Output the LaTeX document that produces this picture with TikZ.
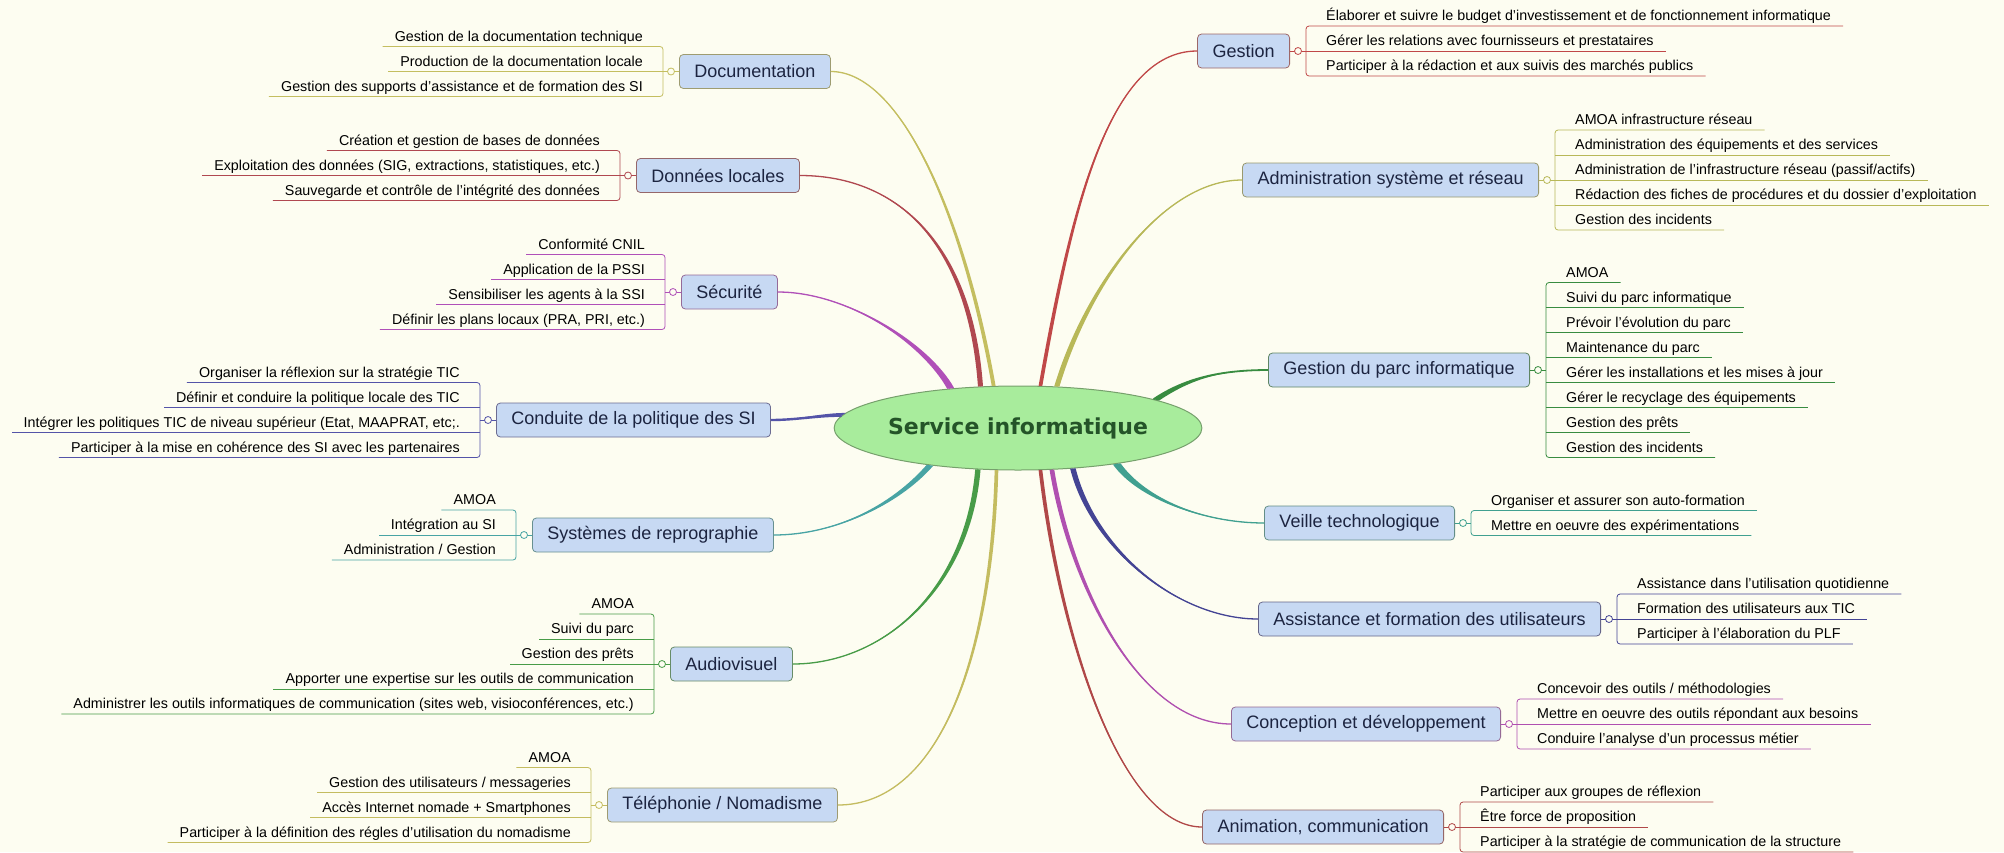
\documentclass[tikz,border=0pt]{standalone}
\usepackage{fontspec}
\setmainfont{Liberation Sans}
\newfontfamily\hubfont{DejaVu Sans}
\usetikzlibrary{shapes.geometric}

\definecolor{bg}{RGB}{253,253,241}
\definecolor{boxblue}{RGB}{199,217,243}
\definecolor{hubgreen}{RGB}{168,236,156}
\definecolor{hubline}{RGB}{118,160,108}
\definecolor{hubtext}{RGB}{36,84,40}
\definecolor{topictext}{RGB}{28,36,64}
\definecolor{cDoc}{RGB}{196,190,96}
\definecolor{cDon}{RGB}{176,72,80}
\definecolor{cSec}{RGB}{176,80,184}
\definecolor{cCon}{RGB}{84,84,168}
\definecolor{cSys}{RGB}{72,164,164}
\definecolor{cAud}{RGB}{72,156,72}
\definecolor{cTel}{RGB}{196,188,96}
\definecolor{cGst}{RGB}{192,72,72}
\definecolor{cAdm}{RGB}{184,184,88}
\definecolor{cPrc}{RGB}{56,140,64}
\definecolor{cVei}{RGB}{64,160,144}
\definecolor{cAss}{RGB}{68,68,148}
\definecolor{cCnc}{RGB}{176,80,176}
\definecolor{cAni}{RGB}{176,72,72}

\begin{document}
\begin{tikzpicture}[x=1pt, y=-1pt,
    hub/.style={ellipse, draw=hubline, line width=1pt, fill=hubgreen, minimum width=356pt, minimum height=84pt, inner sep=0pt, text=hubtext, font=\hubfont\bfseries\fontsize{22}{26}\selectfont},
    topic/.style={draw=#1!45!gray, line width=0.8pt, rounded corners=4pt, fill=boxblue, minimum height=34pt, inner xsep=15pt, inner ysep=0pt, text=topictext, font=\fontsize{18}{20}\selectfont},
    leafL/.style={anchor=south east, inner xsep=12pt, inner ysep=2pt, text height=10pt, text depth=3pt, font=\fontsize{14.3}{16}\selectfont},
    leafR/.style={leafL, anchor=south west},
    under/.style={draw=#1, line width=0.8pt}]

    \fill[bg] (0,0) rectangle (2004,852);
    \useasboundingbox (0,0) rectangle (2004,852);

    \node[hub] (srv) at (1018,428) {Service informatique};

    \node[topic=cDoc, anchor=west] (doc) at (679,71.5) {Documentation};
    \node[topic=cDon, anchor=west] (don) at (636,175.5) {Données locales};
    \node[topic=cSec, anchor=west] (sec) at (681,292) {Sécurité};
    \node[topic=cCon, anchor=west] (con) at (496,420) {Conduite de la politique des SI};
    \node[topic=cSys, anchor=west] (sys) at (532,535) {Systèmes de reprographie};
    \node[topic=cAud, anchor=west] (aud) at (670,664) {Audiovisuel};
    \node[topic=cTel, anchor=west] (tel) at (607,805) {Téléphonie / Nomadisme};

    \node[topic=cGst, anchor=east] (gst) at (1290,51) {Gestion};
    \node[topic=cAdm, anchor=east] (adm) at (1539,180) {Administration système et réseau};
    \node[topic=cPrc, anchor=east] (prc) at (1530,370) {Gestion du parc informatique};
    \node[topic=cVei, anchor=east] (vei) at (1455,523) {Veille technologique};
    \node[topic=cAss, anchor=east] (ass) at (1601,619) {Assistance et formation des utilisateurs};
    \node[topic=cCnc, anchor=east] (cnc) at (1501,724) {Conception et développement};
    \node[topic=cAni, anchor=east] (ani) at (1444,827) {Animation, communication};

    % branches
    \fill[cDoc] (srv.118) .. controls +(-30,-170) and +(70,0) .. (doc.east) .. controls +(70,0) and +(-30,-170) .. (srv.122) -- cycle;
    \draw[cDoc, line width=1.3pt] (srv.120) .. controls +(-30,-170) and +(70,0) .. (doc.east);
    \fill[cDon] (srv.130) .. controls +(-10,-140) and +(100,0) .. (don.east) .. controls +(100,0) and +(-10,-140) .. (srv.134) -- cycle;
    \draw[cDon, line width=1.3pt] (srv.132) .. controls +(-10,-140) and +(100,0) .. (don.east);
    \fill[cSec] (srv.148.8) .. controls +(-25,-45) and +(70,0) .. (sec.east) .. controls +(70,0) and +(-25,-45) .. (srv.151.2) -- cycle;
    \draw[cSec, line width=1.3pt] (srv.150) .. controls +(-25,-45) and +(70,0) .. (sec.east);
    \fill[cCon] (srv.175.4) .. controls +(-25,0) and +(25,0) .. (con.east) .. controls +(25,0) and +(-25,0) .. (srv.176.6) -- cycle;
    \draw[cCon, line width=2.4pt] (srv.176) .. controls +(-25,0) and +(25,0) .. (con.east);
    \fill[cSys] (srv.202.7) .. controls +(-35,40) and +(60,0) .. (sys.east) .. controls +(60,0) and +(-35,40) .. (srv.204.3) -- cycle;
    \draw[cSys, line width=1.3pt] (srv.203.5) .. controls +(-35,40) and +(60,0) .. (sys.east);
    \fill[cAud] (srv.224.5) .. controls +(-10,120) and +(90,0) .. (aud.east) .. controls +(90,0) and +(-10,120) .. (srv.228.5) -- cycle;
    \draw[cAud, line width=1.3pt] (srv.226.5) .. controls +(-10,120) and +(90,0) .. (aud.east);
    \fill[cTel] (srv.241.5) .. controls +(-5,190) and +(100,0) .. (tel.east) .. controls +(100,0) and +(-5,190) .. (srv.245.5) -- cycle;
    \draw[cTel, line width=1.3pt] (srv.243.5) .. controls +(-5,190) and +(100,0) .. (tel.east);

    \fill[cGst] (srv.60) .. controls +(30,-170) and +(-90,0) .. (gst.west) .. controls +(-90,0) and +(30,-170) .. (srv.64) -- cycle;
    \draw[cGst, line width=1.3pt] (srv.62) .. controls +(30,-170) and +(-90,0) .. (gst.west);
    \fill[cAdm] (srv.45) .. controls +(30,-100) and +(-80,0) .. (adm.west) .. controls +(-80,0) and +(30,-100) .. (srv.49) -- cycle;
    \draw[cAdm, line width=1.3pt] (srv.47) .. controls +(30,-100) and +(-80,0) .. (adm.west);
    \fill[cPrc] (srv.11.4) .. controls +(30,-20) and +(-50,0) .. (prc.west) .. controls +(-50,0) and +(30,-20) .. (srv.12.6) -- cycle;
    \draw[cPrc, line width=1.8pt] (srv.12) .. controls +(30,-20) and +(-50,0) .. (prc.west);
    \fill[cVei] (srv.339.9) .. controls +(25,35) and +(-60,0) .. (vei.west) .. controls +(-60,0) and +(25,35) .. (srv.341.1) -- cycle;
    \draw[cVei, line width=1.3pt] (srv.340.5) .. controls +(25,35) and +(-60,0) .. (vei.west);
    \fill[cAss] (srv.322) .. controls +(20,80) and +(-80,0) .. (ass.west) .. controls +(-80,0) and +(20,80) .. (srv.325) -- cycle;
    \draw[cAss, line width=1.3pt] (srv.323.5) .. controls +(20,80) and +(-80,0) .. (ass.west);
    \fill[cCnc] (srv.307.5) .. controls +(20,120) and +(-90,0) .. (cnc.west) .. controls +(-90,0) and +(20,120) .. (srv.311.5) -- cycle;
    \draw[cCnc, line width=1.3pt] (srv.309.5) .. controls +(20,120) and +(-90,0) .. (cnc.west);
    \fill[cAni] (srv.296) .. controls +(20,170) and +(-80,0) .. (ani.west) .. controls +(-80,0) and +(20,170) .. (srv.300) -- cycle;
    \draw[cAni, line width=1.3pt] (srv.298) .. controls +(20,170) and +(-80,0) .. (ani.west);

    % Documentation
    \node[leafL] (doc1) at ([shift={(-24,-25)}]doc.west) {Gestion de la documentation technique};
    \node[leafL] (doc2) at ([shift={(-24,0)}]doc.west) {Production de la documentation locale};
    \node[leafL] (doc3) at ([shift={(-24,25)}]doc.west) {Gestion des supports d'assistance et de formation des SI};
    \draw[under=cDoc, rounded corners=3pt] (doc1.south west) -- (doc1.south east) -| ([xshift=8pt]doc3.south east) -- (doc3.south west);
    \draw[under=cDoc] ([xshift=8pt]doc2.south east) -- (doc2.south west);
    \draw[under=cDoc] (doc.west) -- ++(-16,0);
    \draw[under=cDoc, fill=bg] ([xshift=-8pt]doc.west) circle (3.5pt);

    % Donnees locales
    \node[leafL] (don1) at ([shift={(-24,-25)}]don.west) {Création et gestion de bases de données};
    \node[leafL] (don2) at ([shift={(-24,0)}]don.west) {Exploitation des données (SIG, extractions, statistiques, etc.)};
    \node[leafL] (don3) at ([shift={(-24,25)}]don.west) {Sauvegarde et contrôle de l'intégrité des données};
    \draw[under=cDon, rounded corners=3pt] (don1.south west) -- (don1.south east) -| ([xshift=8pt]don3.south east) -- (don3.south west);
    \draw[under=cDon] ([xshift=8pt]don2.south east) -- (don2.south west);
    \draw[under=cDon] (don.west) -- ++(-16,0);
    \draw[under=cDon, fill=bg] ([xshift=-8pt]don.west) circle (3.5pt);

    % Securite
    \node[leafL] (sec1) at ([shift={(-24,-37.5)}]sec.west) {Conformité CNIL};
    \node[leafL] (sec2) at ([shift={(-24,-12.5)}]sec.west) {Application de la PSSI};
    \node[leafL] (sec3) at ([shift={(-24,12.5)}]sec.west) {Sensibiliser les agents à la SSI};
    \node[leafL] (sec4) at ([shift={(-24,37.5)}]sec.west) {Définir les plans locaux (PRA, PRI, etc.)};
    \draw[under=cSec, rounded corners=3pt] (sec1.south west) -- (sec1.south east) -| ([xshift=8pt]sec4.south east) -- (sec4.south west);
    \draw[under=cSec] ([xshift=8pt]sec2.south east) -- (sec2.south west);
    \draw[under=cSec] ([xshift=8pt]sec3.south east) -- (sec3.south west);
    \draw[under=cSec] (sec.west) -- ++(-16,0);
    \draw[under=cSec, fill=bg] ([xshift=-8pt]sec.west) circle (3.5pt);

    % Conduite
    \node[leafL] (con1) at ([shift={(-24,-37.5)}]con.west) {Organiser la réflexion sur la stratégie TIC};
    \node[leafL] (con2) at ([shift={(-24,-12.5)}]con.west) {Définir et conduire la politique locale des TIC};
    \node[leafL] (con3) at ([shift={(-24,12.5)}]con.west) {Intégrer les politiques TIC de niveau supérieur (Etat, MAAPRAT, etc;.};
    \node[leafL] (con4) at ([shift={(-24,37.5)}]con.west) {Participer à la mise en cohérence des SI avec les partenaires};
    \draw[under=cCon, rounded corners=3pt] (con1.south west) -- (con1.south east) -| ([xshift=8pt]con4.south east) -- (con4.south west);
    \draw[under=cCon] ([xshift=8pt]con2.south east) -- (con2.south west);
    \draw[under=cCon] ([xshift=8pt]con3.south east) -- (con3.south west);
    \draw[under=cCon] (con.west) -- ++(-16,0);
    \draw[under=cCon, fill=bg] ([xshift=-8pt]con.west) circle (3.5pt);

    % Reprographie
    \node[leafL] (sys1) at ([shift={(-24,-25)}]sys.west) {AMOA};
    \node[leafL] (sys2) at ([shift={(-24,0)}]sys.west) {Intégration au SI};
    \node[leafL] (sys3) at ([shift={(-24,25)}]sys.west) {Administration / Gestion};
    \draw[under=cSys, rounded corners=3pt] (sys1.south west) -- (sys1.south east) -| ([xshift=8pt]sys3.south east) -- (sys3.south west);
    \draw[under=cSys] ([xshift=8pt]sys2.south east) -- (sys2.south west);
    \draw[under=cSys] (sys.west) -- ++(-16,0);
    \draw[under=cSys, fill=bg] ([xshift=-8pt]sys.west) circle (3.5pt);

    % Audiovisuel
    \node[leafL] (aud1) at ([shift={(-24,-50)}]aud.west) {AMOA};
    \node[leafL] (aud2) at ([shift={(-24,-25)}]aud.west) {Suivi du parc};
    \node[leafL] (aud3) at ([shift={(-24,0)}]aud.west) {Gestion des prêts};
    \node[leafL] (aud4) at ([shift={(-24,25)}]aud.west) {Apporter une expertise sur les outils de communication};
    \node[leafL] (aud5) at ([shift={(-24,50)}]aud.west) {Administrer les outils informatiques de communication (sites web, visioconférences, etc.)};
    \draw[under=cAud, rounded corners=3pt] (aud1.south west) -- (aud1.south east) -| ([xshift=8pt]aud5.south east) -- (aud5.south west);
    \draw[under=cAud] ([xshift=8pt]aud2.south east) -- (aud2.south west);
    \draw[under=cAud] ([xshift=8pt]aud3.south east) -- (aud3.south west);
    \draw[under=cAud] ([xshift=8pt]aud4.south east) -- (aud4.south west);
    \draw[under=cAud] (aud.west) -- ++(-16,0);
    \draw[under=cAud, fill=bg] ([xshift=-8pt]aud.west) circle (3.5pt);

    % Telephonie
    \node[leafL] (tel1) at ([shift={(-24,-37.5)}]tel.west) {AMOA};
    \node[leafL] (tel2) at ([shift={(-24,-12.5)}]tel.west) {Gestion des utilisateurs / messageries};
    \node[leafL] (tel3) at ([shift={(-24,12.5)}]tel.west) {Accès Internet nomade + Smartphones};
    \node[leafL] (tel4) at ([shift={(-24,37.5)}]tel.west) {Participer à la définition des régles d'utilisation du nomadisme};
    \draw[under=cTel, rounded corners=3pt] (tel1.south west) -- (tel1.south east) -| ([xshift=8pt]tel4.south east) -- (tel4.south west);
    \draw[under=cTel] ([xshift=8pt]tel2.south east) -- (tel2.south west);
    \draw[under=cTel] ([xshift=8pt]tel3.south east) -- (tel3.south west);
    \draw[under=cTel] (tel.west) -- ++(-16,0);
    \draw[under=cTel, fill=bg] ([xshift=-8pt]tel.west) circle (3.5pt);

    % Gestion
    \node[leafR] (gst1) at ([shift={(24,-25)}]gst.east) {Élaborer et suivre le budget d'investissement et de fonctionnement informatique};
    \node[leafR] (gst2) at ([shift={(24,0)}]gst.east) {Gérer les relations avec fournisseurs et prestataires};
    \node[leafR] (gst3) at ([shift={(24,25)}]gst.east) {Participer à la rédaction et aux suivis des marchés publics};
    \draw[under=cGst, rounded corners=3pt] (gst1.south east) -- (gst1.south west) -| ([xshift=-8pt]gst3.south west) -- (gst3.south east);
    \draw[under=cGst] ([xshift=-8pt]gst2.south west) -- (gst2.south east);
    \draw[under=cGst] (gst.east) -- ++(16,0);
    \draw[under=cGst, fill=bg] ([xshift=8pt]gst.east) circle (3.5pt);

    % Administration
    \node[leafR] (adm1) at ([shift={(24,-50)}]adm.east) {AMOA infrastructure réseau};
    \node[leafR] (adm2) at ([shift={(24,-25)}]adm.east) {Administration des équipements et des services};
    \node[leafR] (adm3) at ([shift={(24,0)}]adm.east) {Administration de l'infrastructure réseau (passif/actifs)};
    \node[leafR] (adm4) at ([shift={(24,25)}]adm.east) {Rédaction des fiches de procédures et du dossier d'exploitation};
    \node[leafR] (adm5) at ([shift={(24,50)}]adm.east) {Gestion des incidents};
    \draw[under=cAdm, rounded corners=3pt] (adm1.south east) -- (adm1.south west) -| ([xshift=-8pt]adm5.south west) -- (adm5.south east);
    \draw[under=cAdm] ([xshift=-8pt]adm2.south west) -- (adm2.south east);
    \draw[under=cAdm] ([xshift=-8pt]adm3.south west) -- (adm3.south east);
    \draw[under=cAdm] ([xshift=-8pt]adm4.south west) -- (adm4.south east);
    \draw[under=cAdm] (adm.east) -- ++(16,0);
    \draw[under=cAdm, fill=bg] ([xshift=8pt]adm.east) circle (3.5pt);

    % Parc
    \node[leafR] (prc1) at ([shift={(24,-87.5)}]prc.east) {AMOA};
    \node[leafR] (prc2) at ([shift={(24,-62.5)}]prc.east) {Suivi du parc informatique};
    \node[leafR] (prc3) at ([shift={(24,-37.5)}]prc.east) {Prévoir l'évolution du parc};
    \node[leafR] (prc4) at ([shift={(24,-12.5)}]prc.east) {Maintenance du parc};
    \node[leafR] (prc5) at ([shift={(24,12.5)}]prc.east) {Gérer les installations et les mises à jour};
    \node[leafR] (prc6) at ([shift={(24,37.5)}]prc.east) {Gérer le recyclage des équipements};
    \node[leafR] (prc7) at ([shift={(24,62.5)}]prc.east) {Gestion des prêts};
    \node[leafR] (prc8) at ([shift={(24,87.5)}]prc.east) {Gestion des incidents};
    \draw[under=cPrc, rounded corners=3pt] (prc1.south east) -- (prc1.south west) -| ([xshift=-8pt]prc8.south west) -- (prc8.south east);
    \draw[under=cPrc] ([xshift=-8pt]prc2.south west) -- (prc2.south east);
    \draw[under=cPrc] ([xshift=-8pt]prc3.south west) -- (prc3.south east);
    \draw[under=cPrc] ([xshift=-8pt]prc4.south west) -- (prc4.south east);
    \draw[under=cPrc] ([xshift=-8pt]prc5.south west) -- (prc5.south east);
    \draw[under=cPrc] ([xshift=-8pt]prc6.south west) -- (prc6.south east);
    \draw[under=cPrc] ([xshift=-8pt]prc7.south west) -- (prc7.south east);
    \draw[under=cPrc] (prc.east) -- ++(16,0);
    \draw[under=cPrc, fill=bg] ([xshift=8pt]prc.east) circle (3.5pt);

    % Veille
    \node[leafR] (vei1) at ([shift={(24,-12.5)}]vei.east) {Organiser et assurer son auto-formation};
    \node[leafR] (vei2) at ([shift={(24,12.5)}]vei.east) {Mettre en oeuvre des expérimentations};
    \draw[under=cVei, rounded corners=3pt] (vei1.south east) -- (vei1.south west) -| ([xshift=-8pt]vei2.south west) -- (vei2.south east);
    \draw[under=cVei] (vei.east) -- ++(16,0);
    \draw[under=cVei, fill=bg] ([xshift=8pt]vei.east) circle (3.5pt);

    % Assistance
    \node[leafR] (ass1) at ([shift={(24,-25)}]ass.east) {Assistance dans l'utilisation quotidienne};
    \node[leafR] (ass2) at ([shift={(24,0)}]ass.east) {Formation des utilisateurs aux TIC};
    \node[leafR] (ass3) at ([shift={(24,25)}]ass.east) {Participer à l'élaboration du PLF};
    \draw[under=cAss, rounded corners=3pt] (ass1.south east) -- (ass1.south west) -| ([xshift=-8pt]ass3.south west) -- (ass3.south east);
    \draw[under=cAss] ([xshift=-8pt]ass2.south west) -- (ass2.south east);
    \draw[under=cAss] (ass.east) -- ++(16,0);
    \draw[under=cAss, fill=bg] ([xshift=8pt]ass.east) circle (3.5pt);

    % Conception
    \node[leafR] (cnc1) at ([shift={(24,-25)}]cnc.east) {Concevoir des outils / méthodologies};
    \node[leafR] (cnc2) at ([shift={(24,0)}]cnc.east) {Mettre en oeuvre des outils répondant aux besoins};
    \node[leafR] (cnc3) at ([shift={(24,25)}]cnc.east) {Conduire l'analyse d'un processus métier};
    \draw[under=cCnc, rounded corners=3pt] (cnc1.south east) -- (cnc1.south west) -| ([xshift=-8pt]cnc3.south west) -- (cnc3.south east);
    \draw[under=cCnc] ([xshift=-8pt]cnc2.south west) -- (cnc2.south east);
    \draw[under=cCnc] (cnc.east) -- ++(16,0);
    \draw[under=cCnc, fill=bg] ([xshift=8pt]cnc.east) circle (3.5pt);

    % Animation
    \node[leafR] (ani1) at ([shift={(24,-25)}]ani.east) {Participer aux groupes de réflexion};
    \node[leafR] (ani2) at ([shift={(24,0)}]ani.east) {Être force de proposition};
    \node[leafR] (ani3) at ([shift={(24,25)}]ani.east) {Participer à la stratégie de communication de la structure};
    \draw[under=cAni, rounded corners=3pt] (ani1.south east) -- (ani1.south west) -| ([xshift=-8pt]ani3.south west) -- (ani3.south east);
    \draw[under=cAni] ([xshift=-8pt]ani2.south west) -- (ani2.south east);
    \draw[under=cAni] (ani.east) -- ++(16,0);
    \draw[under=cAni, fill=bg] ([xshift=8pt]ani.east) circle (3.5pt);
\end{tikzpicture}
\end{document}
